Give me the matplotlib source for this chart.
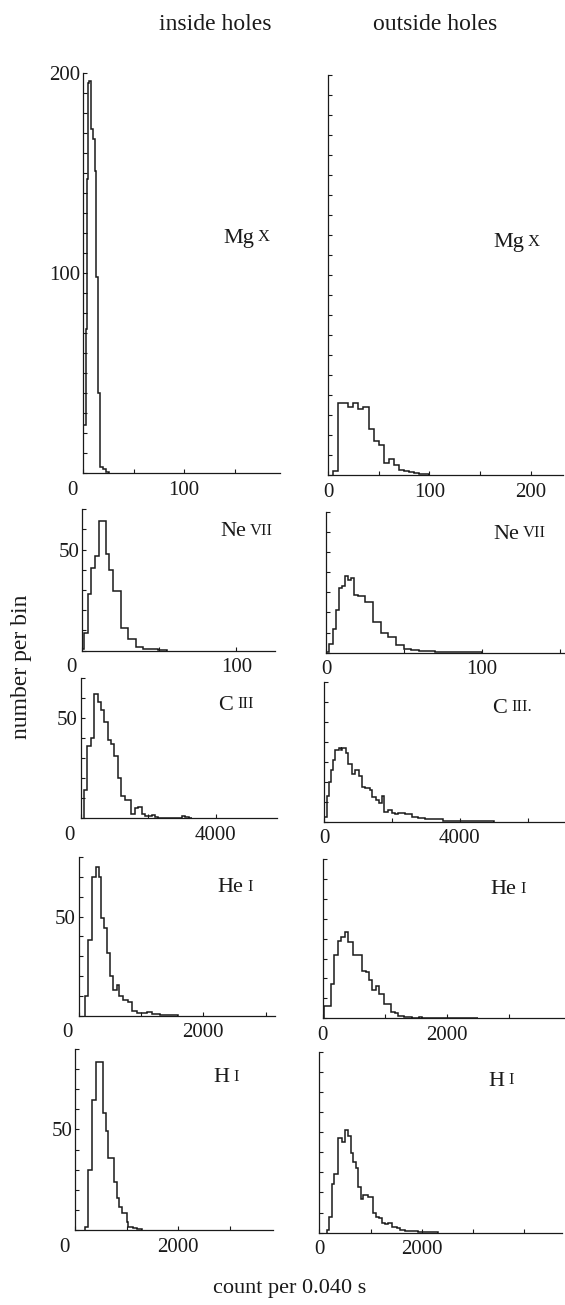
import matplotlib
matplotlib.use('Agg')
import matplotlib.pyplot as plt
from matplotlib.ticker import MultipleLocator
from matplotlib.transforms import ScaledTranslation

plt.rcParams['font.family'] = ['Liberation Serif', 'DejaVu Serif']

# ---- histogram data (bin edges in counts per 0.040 s) ----
mgx_in_edges = [0, 2.6, 4, 5, 5.9, 8.3, 9.9, 11.6, 13.2, 14.9, 16.5, 19.8, 23.1, 26]
mgx_in = [24, 72, 147, 195, 196, 172, 167, 151, 98, 40, 3, 2, 0.5]

mgx_out_edges = [5, 10, 15, 20, 25, 30, 35, 40, 45, 50, 55, 60, 65, 70, 75, 80, 85, 90, 95, 100]
mgx_out = [2, 36, 36, 34, 36, 33, 34, 23, 17, 15, 6, 8, 5, 2.5, 2, 1.5, 1, 0.5, 0.5]

nevii_in_edges = [0, 1.3, 3.7, 6.1, 8.5, 10.9, 15.5, 17.5, 20.3, 25, 30, 34.7, 39.7, 49, 55]
nevii_in = [1, 9, 28, 41, 47, 64, 48, 40, 29.5, 11, 6, 2, 1, 0.3]

nevii_out_edges = [0, 2.1, 4.3, 6.2, 8.4, 10.5, 12.2, 14.3, 15.8, 18, 20.3, 25, 30.4,
                   35.3, 40, 45, 49.7, 54.6, 59.3, 64.7, 70, 80, 100]
nevii_out = [0.5, 4.3, 11.7, 21, 32, 33, 38, 36, 37, 28.6, 28, 25, 15, 9.6, 8, 3.8,
             2, 1.3, 1, 0.7, 0.3, 0.15]

ciii_in_edges = [100, 200, 300, 400, 500, 600, 700, 800, 900, 1000, 1100, 1200, 1300,
                 1400, 1500, 1600, 1700, 1800, 1900, 2000, 2100, 2200, 2300, 2400,
                 2500, 2600, 2700, 2800, 2900, 3000, 3100, 3200, 3300]
ciii_in = [14, 36, 40, 62, 58, 54, 48, 39, 37, 31, 20, 11, 9, 9, 2, 5, 5.5, 2, 1, 1,
           1.5, 0.5, 0.3, 0.2, 0.2, 0.2, 0.2, 0.3, 0.3, 1, 0.7, 0.3]

ciii_out_edges = [0, 88, 147, 197, 246, 315, 432, 491, 531, 629, 708, 806, 904, 1022,
                  1120, 1199, 1347, 1416, 1514, 1612, 1691, 1770, 1887, 1986, 2084,
                  2182, 2281, 2379, 2576, 2772, 2969, 3165, 3500, 5000]
ciii_out = [2.5, 13, 20, 26, 31, 36, 37, 36, 37, 34.5, 29, 24, 26, 23, 17.5, 17, 16,
            12.5, 11, 9.5, 13, 5, 6, 4.5, 3.8, 4.5, 4.2, 3.8, 2.5, 1.7, 1.5, 1.2, 0.4]

hei_in_edges = [102, 155, 219, 273, 321, 358, 412, 460, 503, 556, 610, 653, 706, 797,
                850, 930, 995, 1091, 1171, 1305, 1493, 1600]
hei_in = [10, 38, 70, 75, 70, 49, 44, 31.5, 20, 13, 15.7, 10, 8, 7, 2.3, 1.5, 1.2, 2,
          0.8, 0.5, 0.2]

hei_out_edges = [27, 129, 188, 242, 290, 333, 360, 414, 495, 640, 699, 747, 801, 855,
                 909, 984, 1102, 1167, 1220, 1301, 1355, 1435, 1543, 1597, 2500]
hei_out = [6, 17, 32, 39, 41, 41, 43.5, 38.5, 32, 24, 23.5, 19, 14, 16, 12, 7.2, 3.3,
           2.5, 1.3, 0.5, 0.8, 0.3, 0.8, 0.15]

hi_in_edges = [188, 252, 317, 395, 543, 595, 641, 750, 802, 848, 912, 996, 1029, 1126,
               1190, 1300]
hi_in = [1.7, 30, 64.5, 83.6, 58, 49, 35.6, 24, 15.7, 11.3, 8.3, 4.1, 1.7, 1.2, 0.3]

hi_out_edges = [143, 195, 241, 293, 358, 449, 501, 566, 612, 664, 710, 749, 814, 859,
                957, 1055, 1100, 1165, 1217, 1282, 1348, 1426, 1510, 1575, 1673, 1933,
                2324]
hi_out = [1.3, 8, 24, 29, 47, 45, 51, 48, 39.4, 35.3, 32, 22.8, 17, 18.7, 17.9, 10, 8,
          7.1, 5, 4.3, 4.6, 3, 2.2, 1.3, 0.8, 0.3]

ions = [('Mg', 'X'), ('Ne', 'VII'), ('C', 'III'), ('He', 'I'), ('H', 'I')]
ymax = [200, 70, 70, 80, 90]
xmax_in = [195, 125, 5800, 3150, 3840]
xmax_out = [232, 153, 7100, 3900, 4740]
xstep_in = [50, 50, 2000, 1000, 1000]
xstep_out = [50, 50, 2000, 1000, 1000]
xlab_in = [100, 100, 4000, 2000, 2000]
xlab_out = [[0, 100, 200], [0, 100], [0, 4000], [0, 2000], [0, 2000]]
ylab_in = [[100, 200], [50], [50], [50], [50]]
right_suffix = ['', '', '.', '', '']

data_in = [(mgx_in_edges, mgx_in), (nevii_in_edges, nevii_in), (ciii_in_edges, ciii_in),
           (hei_in_edges, hei_in), (hi_in_edges, hi_in)]
data_out = [(mgx_out_edges, mgx_out), (nevii_out_edges, nevii_out),
            (ciii_out_edges, ciii_out), (hei_out_edges, hei_out),
            (hi_out_edges, hi_out)]

# pixel boxes: x of y-axis, x end of x-axis, y of zero line, y of top value
box_in = [(83, 280, 473, 73), (82, 275, 650.7, 509.3), (80.7, 276.7, 818.3, 678),
          (78.7, 275, 1015.7, 857), (75.3, 273, 1230, 1049)]
box_out = [(328, 563, 475, 75), (326, 565, 652.7, 511.7), (324.3, 565, 821.7, 681.7),
           (322.7, 565, 1018.3, 859), (319.3, 562, 1232.7, 1051.7)]
label_in = [(223, 238), (220, 532), (218, 705), (217, 888), (213, 1078)]
label_out = [(493, 243), (493, 534), (492, 708), (490, 890), (488, 1081)]

W, H = 565, 1305
ink = '#1a1a1a'
fig = plt.figure(figsize=(W / 100, H / 100), dpi=100)


def panel(box, edges, counts, xmax, ym, xstep):
    x0, x1, yb, yt = box
    ax = fig.add_axes([x0 / W, 1 - yb / H, (x1 - x0) / W, (yb - yt) / H])
    ax.stairs(counts, edges, color=ink, lw=1.1)
    ax.set_xlim(0, xmax)
    ax.set_ylim(0, ym)
    for s in ['top', 'right']:
        ax.spines[s].set_visible(False)
    for s in ['left', 'bottom']:
        ax.spines[s].set_linewidth(0.9)
        ax.spines[s].set_color(ink)
    ax.patch.set_alpha(0)
    ax.xaxis.set_minor_locator(MultipleLocator(xstep))
    ax.yaxis.set_minor_locator(MultipleLocator(10))
    ax.tick_params(which='both', direction='in', length=3, width=0.8, color=ink,
                   labelsize=15, labelcolor=ink)
    ax.tick_params(axis='x', pad=5.5)
    ax.tick_params(axis='y', pad=2)
    return ax


def ion_label(ax, xy, el, num):
    t = fig.text(xy[0] / W, 1 - xy[1] / H, el, ha='left', va='center', fontsize=16,
                 color=ink)
    ax.annotate(num, xy=(1, 0), xycoords=t, xytext=(3, 1.5), textcoords='offset points',
                ha='left', va='bottom', fontsize=12, color=ink)


for i in range(5):
    el, num = ions[i]

    # inside holes
    e, c = data_in[i]
    ax = panel(box_in[i], e, c, xmax_in[i], ymax[i], xstep_in[i])
    ax.set_xticks([xlab_in[i]])
    ax.set_xticklabels([str(xlab_in[i])])
    ax.set_yticks(ylab_in[i])
    ax.set_yticklabels([str(v) for v in ylab_in[i]])
    ax.text(0, 0, '0', fontsize=15, color=ink, ha='center', va='top',
            transform=ax.transData + ScaledTranslation(-0.11, -0.075, fig.dpi_scale_trans))
    ion_label(ax, label_in[i], el, num)

    # outside holes
    e, c = data_out[i]
    ax = panel(box_out[i], e, c, xmax_out[i], ymax[i], xstep_out[i])
    ax.set_xticks(xlab_out[i])
    ax.set_xticklabels([str(v) for v in xlab_out[i]])
    ax.set_yticks(range(0, ymax[i] + 1, 10))
    ax.set_yticklabels([])
    ion_label(ax, label_out[i], el, num + right_suffix[i])

fig.text(215 / W, 1 - 25 / H, 'inside holes', ha='center', va='center', fontsize=17,
         color=ink)
fig.text(435 / W, 1 - 24 / H, 'outside holes', ha='center', va='center', fontsize=17,
         color=ink)
fig.text(22 / W, 1 - 667 / H, 'number per bin', ha='center', va='center', rotation=90,
         fontsize=17, color=ink)
fig.text(290 / W, 1 - 1289 / H, 'count per 0.040 s', ha='center', va='center',
         fontsize=16, color=ink)

fig.savefig('out.png', dpi=100)
